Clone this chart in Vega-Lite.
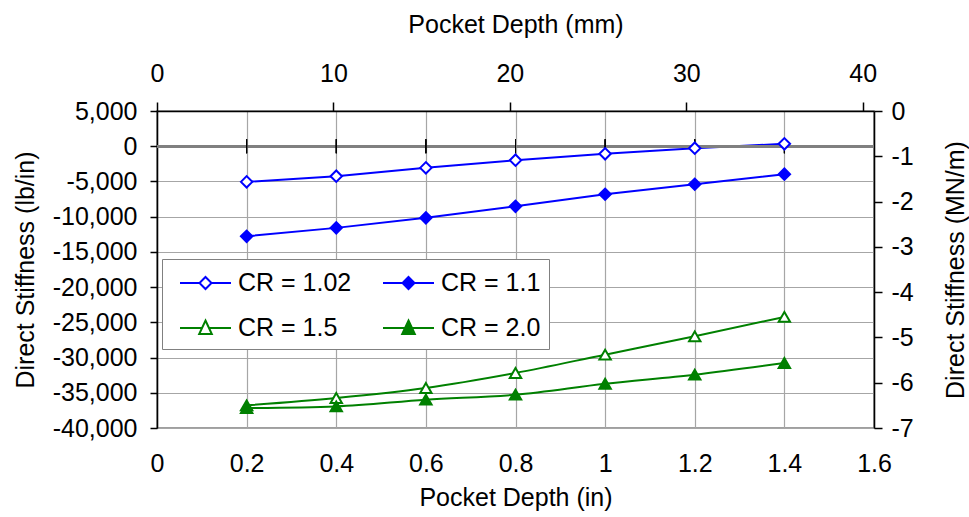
{
  "$schema": "https://vega.github.io/schema/vega-lite/v6.json",
  "width": 717,
  "height": 317,
  "autosize": {"type": "none"},
  "padding": {"left": 157, "top": 111, "right": 95, "bottom": 89},
  "config": {
    "font": "Liberation Sans",
    "locale": {"number": {"decimal": ".", "thousands": ",", "grouping": [3], "currency": ["$", ""], "minus": "-"}},
    "view": {"stroke": "#808080", "strokeWidth": 1.5},
    "axis": {
      "labelFont": "Liberation Sans", "titleFont": "Liberation Sans",
      "labelFontSize": 25, "titleFontSize": 25,
      "labelColor": "#000000", "titleColor": "#000000", "titleFontWeight": "normal",
      "domainColor": "#000000", "domainWidth": 1.5, "tickColor": "#000000", "tickWidth": 1.5,
      "gridColor": "#a6a6a6", "gridWidth": 1.2, "labelOverlap": false, "labelFlush": false
    },
    "legend": {
      "title": null, "orient": "none", "legendX": 5, "legendY": 148,
      "columns": 2, "gridAlign": "all", "direction": "horizontal",
      "symbolSize": 900, "symbolStrokeWidth": 2, "labelOffset": 36, "columnPadding": 21, "rowPadding": 16, "padding": 8,
      "labelFont": "Liberation Sans", "labelFontSize": 25, "labelColor": "#000000", "labelLimit": 300,
      "fillColor": "#ffffff", "strokeColor": "#808080"
    }
  },
  "layer": [
    {
      "data": {"values": [
        {"series": "CR = 1.02", "x": 0.2, "y": -5057},
        {"series": "CR = 1.02", "x": 0.4, "y": -4261},
        {"series": "CR = 1.02", "x": 0.6, "y": -3068},
        {"series": "CR = 1.02", "x": 0.8, "y": -1989},
        {"series": "CR = 1.02", "x": 1.0, "y": -1080},
        {"series": "CR = 1.02", "x": 1.2, "y": -284},
        {"series": "CR = 1.02", "x": 1.4, "y": 341},
        {"series": "CR = 1.1", "x": 0.2, "y": -12784},
        {"series": "CR = 1.1", "x": 0.4, "y": -11591},
        {"series": "CR = 1.1", "x": 0.6, "y": -10170},
        {"series": "CR = 1.1", "x": 0.8, "y": -8523},
        {"series": "CR = 1.1", "x": 1.0, "y": -6818},
        {"series": "CR = 1.1", "x": 1.2, "y": -5398},
        {"series": "CR = 1.1", "x": 1.4, "y": -3977},
        {"series": "CR = 1.5", "x": 0.2, "y": -36790},
        {"series": "CR = 1.5", "x": 0.4, "y": -35739},
        {"series": "CR = 1.5", "x": 0.6, "y": -34318},
        {"series": "CR = 1.5", "x": 0.8, "y": -32188},
        {"series": "CR = 1.5", "x": 1.0, "y": -29588},
        {"series": "CR = 1.5", "x": 1.2, "y": -26989},
        {"series": "CR = 1.5", "x": 1.4, "y": -24233},
        {"series": "CR = 2.0", "x": 0.2, "y": -37159},
        {"series": "CR = 2.0", "x": 0.4, "y": -36932},
        {"series": "CR = 2.0", "x": 0.6, "y": -35980},
        {"series": "CR = 2.0", "x": 0.8, "y": -35270},
        {"series": "CR = 2.0", "x": 1.0, "y": -33710},
        {"series": "CR = 2.0", "x": 1.2, "y": -32430},
        {"series": "CR = 2.0", "x": 1.4, "y": -30770}
      ]},
      "layer": [
        {
          "layer": [
            {
              "mark": {"type": "line", "strokeWidth": 2},
              "transform": [{"filter": "datum.series === 'CR = 1.02' || datum.series === 'CR = 1.1'"}],
              "encoding": {
                "x": {
                  "field": "x", "type": "quantitative",
                  "scale": {"domain": [0, 1.6], "nice": false, "zero": false},
                  "axis": {"orient": "bottom", "title": "Pocket Depth (in)", "values": [0, 0.2, 0.4, 0.6, 0.8, 1, 1.2, 1.4, 1.6], "format": "~g", "domain": false, "ticks": false, "tickSize": 0, "grid": true, "labelPadding": 23, "titlePadding": 9}
                },
                "y": {
                  "field": "y", "type": "quantitative",
                  "scale": {"domain": [-40000, 5000], "nice": false, "zero": false},
                  "axis": {"orient": "left", "title": "Direct Stiffness (lb/in)", "values": [5000, 0, -5000, -10000, -15000, -20000, -25000, -30000, -35000, -40000], "format": ",d", "grid": true, "tickSize": 7, "labelPadding": 13, "titlePadding": 14}
                },
                "color": {
                  "field": "series", "type": "nominal",
                  "scale": {"domain": ["CR = 1.02", "CR = 1.1", "CR = 1.5", "CR = 2.0"], "range": ["#0000ff", "#0000ff", "#008000", "#008000"]},
                  "legend": null
                }
              }
            },
            {
              "mark": {"type": "line", "strokeWidth": 2, "interpolate": "monotone"},
              "transform": [{"filter": "datum.series === 'CR = 1.5' || datum.series === 'CR = 2.0'"}],
              "encoding": {
                "x": {
                  "field": "x", "type": "quantitative",
                  "axis": {"orient": "bottom", "title": "Pocket Depth (in)", "values": [0, 0.2, 0.4, 0.6, 0.8, 1, 1.2, 1.4, 1.6], "format": "~g", "domain": false, "ticks": false, "tickSize": 0, "grid": true, "labelPadding": 23, "titlePadding": 9}
                },
                "y": {
                  "field": "y", "type": "quantitative",
                  "axis": {"orient": "left", "title": "Direct Stiffness (lb/in)", "values": [5000, 0, -5000, -10000, -15000, -20000, -25000, -30000, -35000, -40000], "format": ",d", "grid": true, "tickSize": 7, "labelPadding": 13, "titlePadding": 14}
                },
                "color": {"field": "series", "type": "nominal", "legend": null}
              }
            },
            {
              "mark": {"type": "rule", "color": "#808080", "strokeWidth": 2},
              "encoding": {
                "y": {
                  "datum": 0, "type": "quantitative",
                  "axis": {"orient": "left", "title": "Direct Stiffness (lb/in)", "values": [5000, 0, -5000, -10000, -15000, -20000, -25000, -30000, -35000, -40000], "format": ",d", "grid": true, "tickSize": 7, "labelPadding": 13, "titlePadding": 14}
                }
              }
            },
            {
              "mark": {"type": "tick", "orient": "vertical", "size": 14, "thickness": 1, "color": "#000000", "opacity": 1},
              "encoding": {
                "x": {
                  "field": "x", "type": "quantitative",
                  "axis": {"orient": "bottom", "title": "Pocket Depth (in)", "values": [0, 0.2, 0.4, 0.6, 0.8, 1, 1.2, 1.4, 1.6], "format": "~g", "domain": false, "ticks": false, "tickSize": 0, "grid": true, "labelPadding": 23, "titlePadding": 9}
                },
                "y": {
                  "datum": 0, "type": "quantitative",
                  "axis": {"orient": "left", "title": "Direct Stiffness (lb/in)", "values": [5000, 0, -5000, -10000, -15000, -20000, -25000, -30000, -35000, -40000], "format": ",d", "grid": true, "tickSize": 7, "labelPadding": 13, "titlePadding": 14}
                }
              }
            },
            {
              "mark": {"type": "point", "filled": false, "size": 130, "strokeWidth": 2, "opacity": 1},
              "encoding": {
                "x": {
                  "field": "x", "type": "quantitative",
                  "axis": {"orient": "bottom", "title": "Pocket Depth (in)", "values": [0, 0.2, 0.4, 0.6, 0.8, 1, 1.2, 1.4, 1.6], "format": "~g", "domain": false, "ticks": false, "tickSize": 0, "grid": true, "labelPadding": 23, "titlePadding": 9}
                },
                "y": {
                  "field": "y", "type": "quantitative",
                  "axis": {"orient": "left", "title": "Direct Stiffness (lb/in)", "values": [5000, 0, -5000, -10000, -15000, -20000, -25000, -30000, -35000, -40000], "format": ",d", "grid": true, "tickSize": 7, "labelPadding": 13, "titlePadding": 14}
                },
                "color": {"field": "series", "type": "nominal", "legend": null},
                "shape": {
                  "field": "series", "type": "nominal",
                  "scale": {"domain": ["CR = 1.02", "CR = 1.1", "CR = 1.5", "CR = 2.0"], "range": ["diamond", "diamond", "triangle-up", "triangle-up"]},
                  "legend": null
                },
                "fill": {
                  "field": "series", "type": "nominal",
                  "scale": {"domain": ["CR = 1.02", "CR = 1.1", "CR = 1.5", "CR = 2.0"], "range": ["#ffffff", "#0000ff", "#ffffff", "#008000"]},
                  "legend": null
                }
              }
            }
          ]
        },
        {
          "transform": [{"filter": "false"}],
          "mark": {"type": "point", "filled": false, "strokeWidth": 2, "opacity": 1},
          "encoding": {
            "color": {
              "field": "series", "type": "nominal",
              "scale": {"domain": ["CR = 1.02", "CR = 1.1", "CR = 1.5", "CR = 2.0"], "range": ["#0000ff", "#0000ff", "#008000", "#008000"]}
            },
            "shape": {
              "field": "series", "type": "nominal",
              "scale": {"domain": ["CR = 1.02", "CR = 1.1", "CR = 1.5", "CR = 2.0"], "range": [
                "M-0.4,0H0.9M1.7,0H3.0M1.3,-0.4L1.7,0L1.3,0.4L0.9,0Z",
                "M-0.4,0H0.9M1.7,0H3.0M1.3,-0.4L1.7,0L1.3,0.4L0.9,0Z",
                "M-0.4,0H1.067M1.533,0H3.0M1.3,-0.5L1.72,0.4L0.88,0.4Z",
                "M-0.4,0H1.067M1.533,0H3.0M1.3,-0.5L1.72,0.4L0.88,0.4Z"
              ]}
            },
            "fill": {
              "field": "series", "type": "nominal",
              "scale": {"domain": ["CR = 1.02", "CR = 1.1", "CR = 1.5", "CR = 2.0"], "range": ["#ffffff", "#0000ff", "#ffffff", "#008000"]}
            }
          }
        }
      ],
      "resolve": {"scale": {"color": "independent", "shape": "independent", "fill": "independent"}}
    },
    {
      "data": {"values": [{"mm": 0, "mnm": 0}]},
      "mark": {"type": "point", "opacity": 0},
      "encoding": {
        "x": {
          "field": "mm", "type": "quantitative",
          "scale": {"domain": [0, 40.64], "nice": false, "zero": false},
          "axis": {
            "orient": "top", "title": "Pocket Depth (mm)", "values": [0, 10, 20, 30, 40],
            "grid": false, "tickSize": 9, "labelPadding": 16, "titlePadding": 24
          }
        },
        "y": {
          "field": "mnm", "type": "quantitative",
          "scale": {"domain": [-7, 0], "nice": false, "zero": false},
          "axis": {
            "orient": "right", "title": "Direct Stiffness (MN/m)", "values": [0, -1, -2, -3, -4, -5, -6, -7],
            "grid": false, "tickSize": 8, "labelPadding": 9, "titlePadding": 30, "titleAngle": 270, "titleBaseline": "top"
          }
        }
      }
    }
  ],
  "resolve": {"scale": {"x": "independent", "y": "independent"}}
}
